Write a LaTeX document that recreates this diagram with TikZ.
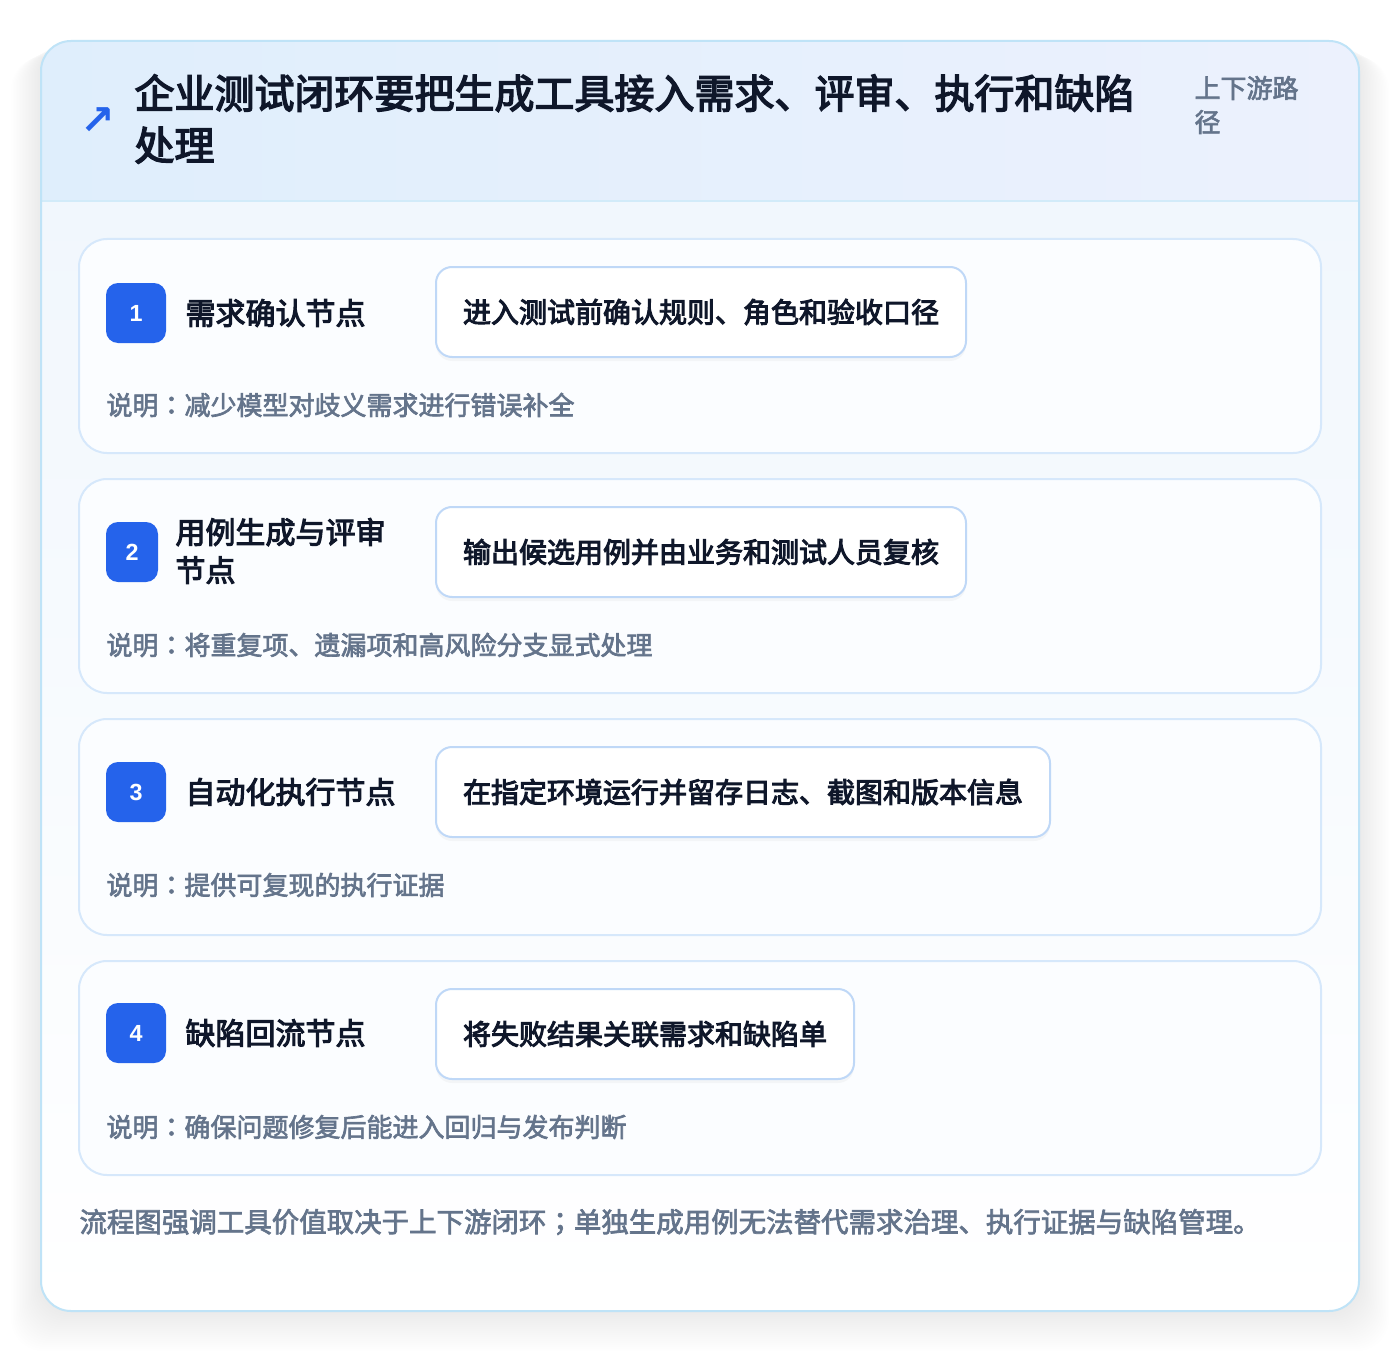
\documentclass[tikz,border=0pt]{standalone}
\usepackage{fontspec}
\setmainfont{Noto Sans CJK SC}
\newfontfamily\heavy{Noto Sans CJK SC}[FakeBold=3.5]
\newfontfamily\heavytc{Noto Sans CJK TC}[FakeBold=3.5]
\newfontfamily\medium{Noto Sans CJK SC}[FakeBold=2.5]
\newfontfamily\mediumtc{Noto Sans CJK TC}[FakeBold=2.5]
\newfontfamily\symfont{DejaVu Sans}
\newfontfamily\digitfont{Liberation Sans}
\usetikzlibrary{shadows}

\definecolor{frameline}{HTML}{BFE3F7}
\definecolor{headleft}{HTML}{DFEEFC}
\definecolor{headright}{HTML}{ECF1FD}
\definecolor{bodytop}{HTML}{F1F7FD}
\definecolor{cardline}{HTML}{D6E8FB}
\definecolor{cardfill}{HTML}{FBFDFF}
\definecolor{pillline}{HTML}{BFD8F7}
\definecolor{badgeblue}{HTML}{2563EB}
\definecolor{inkdark}{HTML}{0F172A}
\definecolor{inkgray}{HTML}{64748B}

% centred colon and semicolon
\newcommand{\ccolon}{{\mediumtc ：}}
\newcommand{\csemi}{{\mediumtc ；}}

\tikzset{every picture/.style={line width=0.75pt},
	card/.style={draw=cardline, fill=cardfill, line width=1.5pt, rounded corners=21pt, minimum width=931.5pt, minimum height=160.5pt, inner sep=0pt},
	badge/.style={fill=badgeblue, text=white, rounded corners=9pt, minimum width=45pt, minimum height=45pt, inner sep=0pt, font=\digitfont\fontsize{17.5}{19}\selectfont\bfseries},
	stepname/.style={anchor=west, inner sep=0pt, text=inkdark, align=left, font=\heavy\fontsize{22.5}{28.5}\selectfont},
	pill/.style={anchor=west, draw=pillline, fill=white, line width=1.5pt, rounded corners=12pt, inner xsep=20.25pt, minimum height=67.5pt, text=inkdark, font=\heavy\fontsize{21}{25}\selectfont, drop shadow={shadow xshift=0pt, shadow yshift=-3pt, opacity=0.06}},
	note/.style={anchor=west, inner sep=0pt, text=inkgray, font=\medium\fontsize{19.5}{24}\selectfont},
}

\begin{document}
\begin{tikzpicture}[x=0.75pt,y=0.75pt,yscale=-1,xscale=1]
	\path [use as bounding box, fill=white] (0,0) rectangle (1400,1352);
	
	%Shape: soft shadow under the frame
	\foreach \i in {1,...,20}
	\fill [black, opacity=0.0045, rounded corners=24pt] (41-\i*1.5,41+\i*0.8) rectangle (1359+\i*1.5,1311+\i*2);
	
	%Shape: frame with header band
	\begin{scope}
		\clip [rounded corners=22.5pt] (41,41) rectangle (1359,1311);
		\shade [left color=headleft, right color=headright] (41,41) rectangle (1359,201);
		\shade [top color=bodytop, bottom color=white] (41,201) rectangle (1359,1311);
		\draw [frameline!70, line width=1.5pt] (41,201) -- (1359,201);
	\end{scope}
	\draw [frameline, line width=1.5pt, rounded corners=22.5pt] (41,41) rectangle (1359,1311);
	
	% Text Node
	\node [text=badgeblue, font=\symfont\fontsize{31}{31}\selectfont\bfseries] (icon) at (98,121) {↗};
	% Text Node
	\node [anchor=west, inner sep=0pt, text=inkdark, align=left, font=\heavy\fontsize{30}{39}\selectfont] (title) at (134,119) {企业测试闭环要把生成工具接入需求、评审、执行和缺陷\\处理};
	% Text Node
	\node [anchor=west, inner sep=0pt, text=inkgray, align=left, font=\medium\fontsize{19.5}{25.5}\selectfont] (route) at (1194,105) {上下游路\\径};
	
	%Shape: card 1
	\node [card] (card1) at (700,346) {};
	\node [badge] (badge1) at (136,313) {1};
	\node [stepname] (name1) at (185,313) {需求确认节点};
	\node [pill] (step1) at (435,312) {进入测试前确认规则、角色和验收口径};
	\node [note] (note1) at (106,405) {说明\ccolon 减少模型对歧义需求进行错误补全};
	
	%Shape: card 2
	\node [card] (card2) at (700,586) {};
	\node [badge, minimum width=39pt] (badge2) at (132,552) {2};
	\node [stepname] (name2) at (175,551) {用例生成与评审\\节点};
	\node [pill] (step2) at (435,552) {输出候选用例并由业务和测试人员复核};
	\node [note] (note2) at (106,645) {说明\ccolon 将重复项、遗漏项和高风险分支显式处理};
	
	%Shape: card 3
	\node [card, minimum height=162pt] (card3) at (700,827) {};
	\node [badge] (badge3) at (136,792) {3};
	\node [stepname] (name3) at (185,792) {自动化执行节点};
	\node [pill] (step3) at (435,792) {在指定环境运行并留存日志、截图和版本信息};
	\node [note] (note3) at (106,885) {说明\ccolon 提供可复现的执行证据};
	
	%Shape: card 4
	\node [card] (card4) at (700,1068) {};
	\node [badge] (badge4) at (136,1033) {4};
	\node [stepname] (name4) at (185,1033) {缺陷回流节点};
	\node [pill] (step4) at (435,1034) {将失败结果关联需求和缺陷单};
	\node [note] (note4) at (106,1127) {说明\ccolon 确保问题修复后能进入回归与发布判断};
	
	% Text Node
	\node [anchor=west, inner sep=0pt, text=inkgray, font=\medium\fontsize{20.6}{25}\selectfont] (footer) at (79,1222) {流程图强调工具价值取决于上下游闭环\csemi 单独生成用例无法替代需求治理、执行证据与缺陷管理。};
	
\end{tikzpicture}
\end{document}
